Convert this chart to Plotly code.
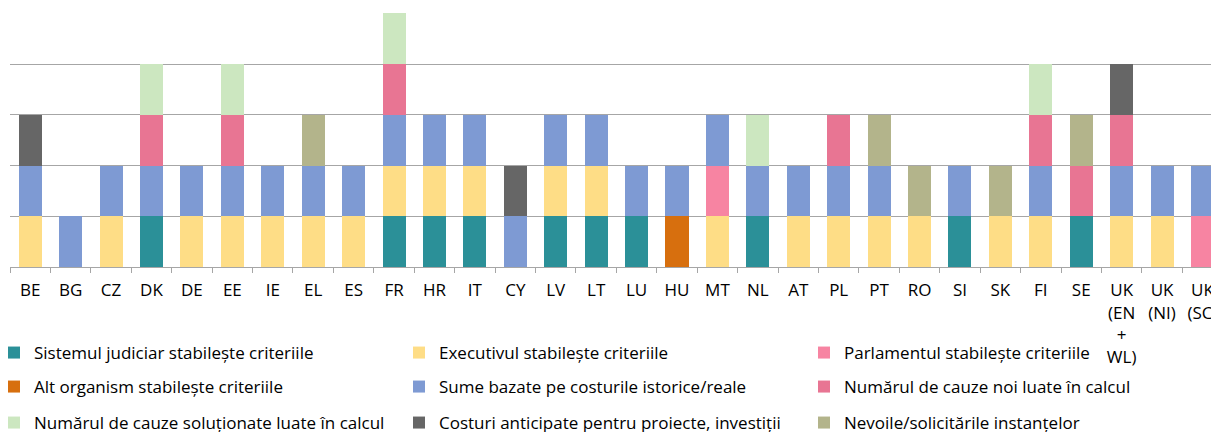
import plotly.graph_objects as go

categories = ["BE", "BG", "CZ", "DK", "DE", "EE", "IE", "EL", "ES", "FR", "HR", "IT", "CY",
              "LV", "LT", "LU", "HU", "MT", "NL", "AT", "PL", "PT", "RO", "SI", "SK", "FI",
              "SE", "UK<br>(EN<br>+<br>WL)", "UK<br>(NI)", "UK<br>(SC)"]

judiciar    = [0,0,0,1,0,0,0,0,0,1,1,1,0,1,1,1,0,0,1,0,0,0,0,1,0,0,1,0,0,0]
executiv    = [1,0,1,0,1,1,1,1,1,1,1,1,0,1,1,0,0,1,0,1,1,1,1,0,1,1,0,1,1,0]
parlament   = [0,0,0,0,0,0,0,0,0,0,0,0,0,0,0,0,0,1,0,0,0,0,0,0,0,0,0,0,0,1]
alt_org     = [0,0,0,0,0,0,0,0,0,0,0,0,0,0,0,0,1,0,0,0,0,0,0,0,0,0,0,0,0,0]
sume        = [1,1,1,1,1,1,1,1,1,1,1,1,1,1,1,1,1,1,1,1,1,1,0,1,0,1,0,1,1,1]
cauze_noi   = [0,0,0,1,0,1,0,0,0,1,0,0,0,0,0,0,0,0,0,0,1,0,0,0,0,1,1,1,0,0]
solutionate = [0,0,0,1,0,1,0,0,0,1,0,0,0,0,0,0,0,0,1,0,0,0,0,0,0,1,0,0,0,0]
costuri     = [1,0,0,0,0,0,0,0,0,0,0,0,1,0,0,0,0,0,0,0,0,0,0,0,0,0,0,1,0,0]
nevoi       = [0,0,0,0,0,0,0,1,0,0,0,0,0,0,0,0,0,0,0,0,0,1,1,0,1,0,1,0,0,0]

series_names = [
    "Sistemul judiciar stabilește criteriile",
    "Executivul stabilește criteriile",
    "Parlamentul stabilește criteriile",
    "Alt organism stabilește criteriile",
    "Sume bazate pe costurile istorice/reale",
    "Numărul de cauze noi luate în calcul",
    "Numărul de cauze soluționate luate în calcul",
    "Costuri anticipate pentru proiecte, investiții",
    "Nevoile/solicitările instanțelor",
]
series_values = [judiciar, executiv, parlament, alt_org, sume, cauze_noi, solutionate, costuri, nevoi]
series_colors = ["#2B9098", "#FEDD86", "#F784A2", "#D76F0E", "#7E9AD3",
                 "#E87593", "#CCE7C0", "#666666", "#B3B48B"]

FONT = "Open Sans"
W, H = 1211, 432
ML, MR, MT, MB = 10, 0, 13, 165
PW = W - ML - MR

# legend grid: 3 columns x 3 rows (pixel anchors in the figure)
col_x = [-6, 399, 804]
row_y = [353, 387, 423]

fig = go.Figure()
legends = {}
for i, (name, vals, color) in enumerate(zip(series_names, series_values, series_colors)):
    key = "legend" if i == 0 else f"legend{i + 1}"
    fig.add_trace(go.Bar(x=categories, y=vals, name=name, marker_color=color,
                         marker_line_width=0, width=0.57, legend=key, showlegend=True))
    r, c = divmod(i, 3)
    legends[key] = dict(orientation="h", xref="paper", yref="container",
                        x=(col_x[c] - ML) / PW, y=1 - row_y[r] / H,
                        xanchor="left", yanchor="middle",
                        font=dict(family=FONT, size=17, color="#000000"),
                        bgcolor="rgba(0,0,0,0)")

fig.update_layout(
    width=W, height=H, autosize=False,
    barmode="stack", showlegend=True,
    plot_bgcolor="white", paper_bgcolor="white",
    margin=dict(l=ML, r=MR, t=MT, b=MB, autoexpand=False),
    font=dict(family=FONT, size=17, color="#000000"),
    xaxis=dict(type="category", range=[-0.5, 29.21], showgrid=False, showline=True,
               linecolor="#A6A6A6", linewidth=1, ticks="outside", tickson="boundaries",
               ticklen=5, tickcolor="#A6A6A6", automargin=False, ticklabelstandoff=8,
               tickfont=dict(family=FONT, size=17, color="#000000")),
    yaxis=dict(range=[0, 5.005], tickvals=[1, 2, 3, 4, 5], showgrid=True,
               gridcolor="#A6A6A6", gridwidth=1,
               showticklabels=False, zeroline=False, showline=False, ticks="",
               automargin=False),
    **legends,
)

fig.write_html("out.html", config={"displayModeBar": False},
               post_script="document.body.style.margin='0';")
